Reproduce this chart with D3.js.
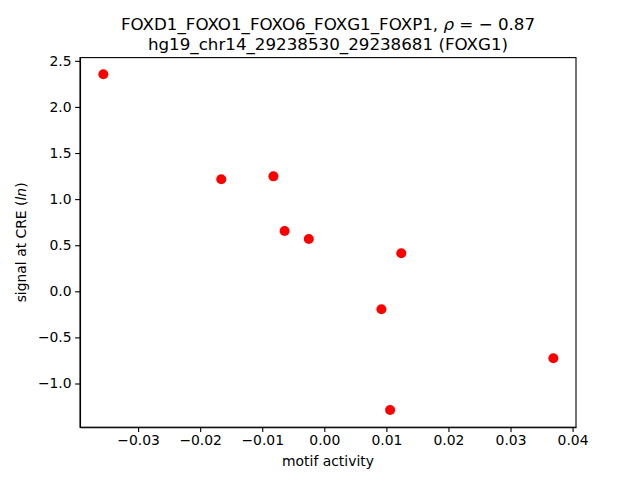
<!DOCTYPE html>
<html>
<head>
<meta charset="utf-8">
<style>
    body { margin: 0; background: #fff; }
    text { font-family: "DejaVu Sans", sans-serif; fill: #000; }
    .tick text { font-size: 13.9px; }
    .tick line, .domain { stroke: #000; stroke-width: 1.1px; }
</style>
<script src="https://d3js.org/d3.v7.min.js"></script>
</head>
<body>
<svg width="640" height="480"></svg>
<script>
    // motif activity vs signal at CRE
    var motifActivity = [-0.0356, -0.0166, -0.0082, -0.0064, -0.0025, 0.0124, 0.0092, 0.0369, 0.0106];
    var signal = [2.354, 1.215, 1.247, 0.654, 0.567, 0.412, -0.195, -0.727, -1.287];
    var xTicks = [-0.03, -0.02, -0.01, 0.00, 0.01, 0.02, 0.03, 0.04];
    var yTicks = [-1.0, -0.5, 0.0, 0.5, 1.0, 1.5, 2.0, 2.5];

    var svg = d3.select("svg"),
        axL = 80, axR = 576, axT = 57.6, axB = 427.2;

    var x = d3.scaleLinear().domain([-0.03936, 0.04055]).range([axL, axR]);
    var y = d3.scaleLinear().domain([-1.474, 2.535]).range([axB, axT]);

    var points = motifActivity.map(function (d, i) { return { x: d, y: signal[i] }; });

    svg.selectAll("circle")
        .data(points)
        .enter().append("circle")
        .attr("cx", function (d) { return x(d.x); })
        .attr("cy", function (d) { return y(d.y); })
        .attr("r", 5)
        .attr("fill", "#ff0000");

    svg.append("g")
        .attr("transform", "translate(0," + axB + ")")
        .call(d3.axisBottom(x).tickValues(xTicks).tickFormat(d3.format(".2f"))
            .tickSize(4.9).tickPadding(3.5).tickSizeOuter(0));

    svg.append("g")
        .attr("transform", "translate(" + axL + ",0)")
        .call(d3.axisLeft(y).tickValues(yTicks).tickFormat(d3.format(".1f"))
            .tickSize(4.9).tickPadding(3.5).tickSizeOuter(0));

    svg.selectAll(".tick text").attr("font-family", null).attr("font-size", null);

    // frame
    svg.append("rect")
        .attr("x", axL).attr("y", axT)
        .attr("width", axR - axL).attr("height", axB - axT)
        .attr("fill", "none").attr("stroke", "#000").attr("stroke-width", 1.1);

    svg.append("text")
        .attr("x", (axL + axR) / 2).attr("y", 466)
        .attr("text-anchor", "middle").style("font-size", "13.9px")
        .text("motif activity");

    var yl = svg.append("text")
        .attr("transform", "translate(26," + (axT + axB) / 2 + ") rotate(-90)")
        .attr("text-anchor", "middle").style("font-size", "13.9px");
    yl.append("tspan").text("signal at CRE (");
    yl.append("tspan").style("font-style", "italic").text("ln");
    yl.append("tspan").text(")");

    var t1 = svg.append("text")
        .attr("x", (axL + axR) / 2).attr("y", 29.5)
        .attr("text-anchor", "middle").style("font-size", "16.7px");
    t1.append("tspan").text("FOXD1_FOXO1_FOXO6_FOXG1_FOXP1, ");
    t1.append("tspan").style("font-style", "italic").text("ρ");
    t1.append("tspan").text(" = − 0.87");

    svg.append("text")
        .attr("x", (axL + axR) / 2).attr("y", 49.5)
        .attr("text-anchor", "middle").style("font-size", "16.7px")
        .text("hg19_chr14_29238530_29238681 (FOXG1)");
</script>
</body>
</html>
